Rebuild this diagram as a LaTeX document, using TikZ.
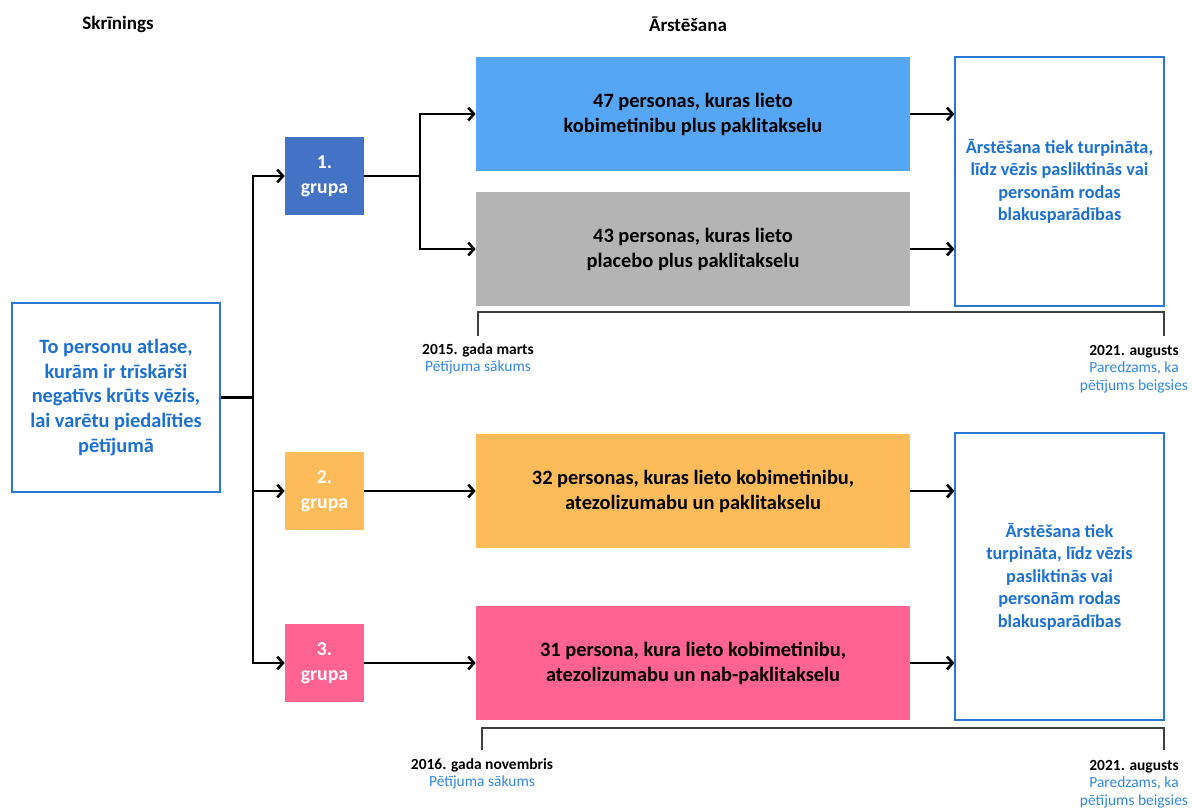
\documentclass[tikz,border=0pt]{standalone}
\usepackage{fontspec}
\setmainfont{Carlito}
\usetikzlibrary{positioning,arrows.meta}

\definecolor{textblue}{RGB}{28,112,210}
\definecolor{noteblue}{RGB}{50,135,225}
\definecolor{frameblue}{RGB}{40,120,215}
\definecolor{groupblue}{RGB}{68,114,196}
\definecolor{armblue}{RGB}{86,166,246}
\definecolor{armgray}{RGB}{180,180,180}
\definecolor{armorange}{RGB}{253,187,90}
\definecolor{armpink}{RGB}{255,99,146}

\begin{document}
\begin{tikzpicture}[
    x=0.025cm, y=-0.025cm, % 1 Einheit = 1 Pixel der Vorlage
    every node/.style={font=\bfseries}, % Schrift der Knoten
    head/.style={font=\fontsize{13.5}{16}\selectfont\bfseries}, % Spaltentitel
    infobox/.style={draw=frameblue, line width=0.8pt, align=center, text=textblue, inner sep=0pt}, % blaue Rahmen
    group/.style={minimum width=1.975cm, minimum height=1.95cm, inner sep=0pt, align=center, text=white, font=\fontsize{14}{18}\selectfont\bfseries}, % Gruppen
    arm/.style={minimum width=10.85cm, minimum height=2.85cm, inner sep=0pt, align=center, font=\fontsize{14.5}{17.8}\selectfont\bfseries}, % Behandlungsarme
    note/.style={align=center, font=\fontsize{11}{12.5}\selectfont\bfseries}, % Datumsangaben
    line/.style={line width=1.9pt}, % Verbindungslinien
    arr/.style={line width=1.9pt, -{Straight Barb[length=4pt,width=9pt]}}, % Pfeile
    bracket/.style={line width=1pt, draw=black!75} % Zeitklammern
]
\useasboundingbox (0,0) rectangle (1192,810);

% Spaltentitel
\node[head] (screening) at (118,24) {Skrīnings};
\node[head] (treatment) at (688,24) {Ārstēšana};

% Auswahl-Knoten
\node[infobox, minimum width=5.2cm, minimum height=4.725cm,
      font=\fontsize{14.5}{17.5}\selectfont\bfseries] (select) at (116,397.5)
  {To personu atlase,\\kurām ir trīskārši\\negatīvs krūts vēzis,\\lai varētu piedalīties\\pētījumā};

% Gruppen-Knoten
\node[group, fill=groupblue] (g1) at (324.5,176) {1.\\grupa};
\node[group, fill=armorange] (g2) at (324.5,491) {2.\\grupa};
\node[group, fill=armpink] (g3) at (324.5,663) {3.\\grupa};

% Arm-Knoten
\node[arm, fill=armblue] (armA) at (693,114) {47 personas, kuras lieto\\kobimetinibu plus paklitakselu};
\node[arm, fill=armgray] (armB) at (693,249) {43 personas, kuras lieto\\placebo plus paklitakselu};
\node[arm, fill=armorange] (armC) at (693,491) {32 personas, kuras lieto kobimetinibu,\\atezolizumabu un paklitakselu};
\node[arm, fill=armpink] (armD) at (693,663) {31 persona, kura lieto kobimetinibu,\\atezolizumabu un nab-paklitakselu};

% Ergebnis-Knoten
\node[infobox, minimum width=5.225cm, minimum height=6.225cm,
      font=\fontsize{13}{16}\selectfont\bfseries] (endAB) at (1059.5,181.5)
  {Ārstēšana tiek turpināta,\\līdz vēzis pasliktinās vai\\personām rodas\\blakusparādības};
\node[infobox, minimum width=5.225cm, minimum height=7.175cm,
      font=\fontsize{13}{16}\selectfont\bfseries] (endCD) at (1059.5,576.5)
  {Ārstēšana tiek\\turpināta, līdz vēzis\\pasliktinās vai\\personām rodas\\blakusparādības};

% Verzweigungen
\coordinate (trunk) at (253,397.5);
\coordinate (fork) at (420,176);
\draw[line] (select.east) -- (trunk);
\draw[arr] (trunk) |- (g1.west);
\draw[arr] (trunk) |- (g2.west);
\draw[arr] (trunk) |- (g3.west);
\draw[line] (g1.east) -- (fork);
\draw[arr] (fork) |- (armA.west);
\draw[arr] (fork) |- (armB.west);
\draw[arr] (g2.east) -- (armC.west);
\draw[arr] (g3.east) -- (armD.west);

% Pfeile zu den Ergebnissen
\draw[arr] (armA.east) -- (armA.east -| endAB.west);
\draw[arr] (armB.east) -- (armB.east -| endAB.west);
\draw[arr] (armC.east) -- (armC.east -| endCD.west);
\draw[arr] (armD.east) -- (armD.east -| endCD.west);

% Zeitklammern
\draw[bracket] (478,336) |- (1164,312) -- (1164,336);
\draw[bracket] (482,750) |- (1164,728) -- (1164,750);

% Datumsangaben
\node[note] (start1) at (478,359) {2015. gada marts\\\textcolor{noteblue}{\mdseries Pētījuma sākums}};
\node[note] (stop1) at (1134,369) {2021. augusts\\\textcolor{noteblue}{\mdseries Paredzams, ka}\\\textcolor{noteblue}{\mdseries pētījums beigsies}};
\node[note] (start2) at (482,774) {2016. gada novembris\\\textcolor{noteblue}{\mdseries Pētījuma sākums}};
\node[note] (stop2) at (1134,784) {2021. augusts\\\textcolor{noteblue}{\mdseries Paredzams, ka}\\\textcolor{noteblue}{\mdseries pētījums beigsies}};

\end{tikzpicture}
\end{document}
